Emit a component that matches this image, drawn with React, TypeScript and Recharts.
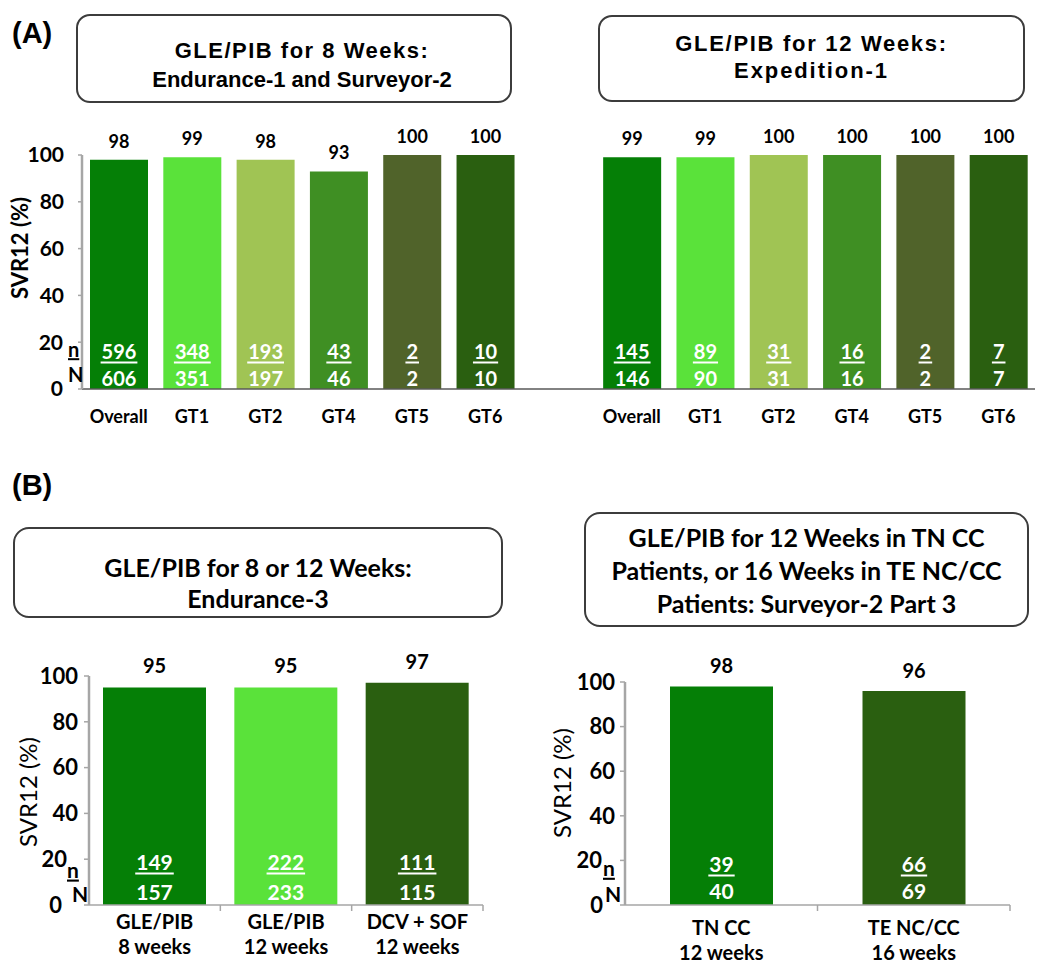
import React from 'react';
import { BarChart, Bar, XAxis, YAxis, Cell, LabelList } from 'recharts';

// panel A: genotype subgroups
const gtCategories = ['Overall', 'GT1', 'GT2', 'GT4', 'GT5', 'GT6'];
const gtColors = ['#057F06', '#5AE23A', '#A0C454', '#3F8F23', '#50632A', '#2A5F10'];
const weeks8Svr = [98, 99, 98, 93, 100, 100];
const weeks8N = [596, 348, 193, 43, 2, 10];
const weeks8Total = [606, 351, 197, 46, 2, 10];
const weeks12Svr = [99, 99, 100, 100, 100, 100];
const weeks12N = [145, 89, 31, 16, 2, 7];
const weeks12Total = [146, 90, 31, 16, 2, 7];

// panel B left: Endurance-3
const e3Categories = [['GLE/PIB', '8 weeks'], ['GLE/PIB', '12 weeks'], ['DCV + SOF', '12 weeks']];
const e3Colors = ['#057F06', '#5AE23A', '#2A5F10'];
const e3Svr = [95, 95, 97];
const e3N = [149, 222, 111];
const e3Total = [157, 233, 115];

// panel B right: Surveyor-2 part 3
const s2Categories = [['TN CC', '12 weeks'], ['TE NC/CC', '16 weeks']];
const s2Colors = ['#057F06', '#2A5F10'];
const s2Svr = [98, 96];
const s2N = [39, 66];
const s2Total = [40, 69];

const yTicks = [0, 20, 40, 60, 80, 100];

const LATO = "Lato, 'Open Sans', sans-serif";
const ARIAL = "'Liberation Sans', Arial, sans-serif";

type Row = { key: string; label: string[]; svr: number | null; counts?: string; color: string };

const buildRows = (prefix: string, cats: (string | string[])[], svr: number[], n: number[], total: number[], colors: string[]): Row[] =>
  cats.map((c, i) => ({
    key: `${prefix}${i}`,
    label: Array.isArray(c) ? c : [c],
    svr: svr[i],
    counts: `${n[i]}/${total[i]}`,
    color: colors[i],
  }));

const panelARows: Row[] = [
  ...buildRows('a', gtCategories, weeks8Svr, weeks8N, weeks8Total, gtColors),
  { key: 'gap', label: [''], svr: null, color: '#fff' },
  ...buildRows('b', gtCategories, weeks12Svr, weeks12N, weeks12Total, gtColors),
];
const e3Rows = buildRows('c', e3Categories, e3Svr, e3N, e3Total, e3Colors);
const s2Rows = buildRows('d', s2Categories, s2Svr, s2N, s2Total, s2Colors);

type Cfg = {
  left: number; top: number; width: number; height: number;
  margin: { top: number; right: number; left: number; bottom: number };
  yWidth: number; xHeight: number; barSize: number;
  tickSize: number; tickMargin: number; tickFont: number;
  twentyShift: number; nX: number; nDy: number; zeroShift: number; NX: number; NDy: number; sideFont: number;
  yLabelDx: number; yLabelDy: number; yLabelFont: number; yLabelWeight: number;
  valueFont: number; valueOffset: number;
  countFont: number; nUp: number; NUp: number;
  xFont: number; xFirst: number; xGap: number;
  xAxisColor: string; xAxisWidth: number; yAxisColor: string; yAxisWidth: number;
  boundaryTicks: boolean;
};

const SvrPanel = ({ rows, cfg }: { rows: Row[]; cfg: Cfg }) => {
  const bold = { fontFamily: LATO, fontWeight: 700 };

  const yTick = (props: any) => {
    const { x, y, payload } = props;
    const v = payload.value;
    if (v === 20) {
      return (
        <g>
          <text x={x + cfg.twentyShift} y={y} dy="0.35em" textAnchor="end" fontSize={cfg.tickFont} fill="#000" {...bold}>20</text>
          <text x={x + cfg.nX} y={y + cfg.nDy} dy="0.35em" textAnchor="start" fontSize={cfg.sideFont} fill="#000" style={{ textDecoration: 'underline' }} {...bold}>n</text>
        </g>
      );
    }
    if (v === 0) {
      return (
        <g>
          <text x={x + cfg.zeroShift} y={y} dy="0.35em" textAnchor="end" fontSize={cfg.tickFont} fill="#000" {...bold}>0</text>
          <text x={x + cfg.NX} y={y + cfg.NDy} dy="0.35em" textAnchor="start" fontSize={cfg.sideFont} fill="#000" {...bold}>N</text>
        </g>
      );
    }
    return (
      <text x={x} y={y} dy="0.35em" textAnchor="end" fontSize={cfg.tickFont} fill="#000" {...bold}>{v}</text>
    );
  };

  const xTick = (props: any) => {
    const { x, y, index, payload } = props;
    const row = rows[index];
    const half = payload && typeof payload.offset === 'number' ? payload.offset : 0;
    return (
      <g>
        {row.label.map((l, i) => (
          <text key={i} x={x} y={y + cfg.xFirst + i * cfg.xGap} textAnchor="middle" fontSize={cfg.xFont} fill="#000" {...bold}>{l}</text>
        ))}
        {cfg.boundaryTicks && half > 0 ? (
          <line x1={x + half} x2={x + half} y1={y} y2={y + 6} stroke={cfg.xAxisColor} strokeWidth={1.5} />
        ) : null}
      </g>
    );
  };

  const topLabel = (props: any) => {
    const vb = props.viewBox ?? props;
    if (props.value == null || !vb.width) return null;
    return (
      <text x={vb.x + vb.width / 2} y={vb.y - cfg.valueOffset} textAnchor="middle" fontSize={cfg.valueFont} fill="#000" {...bold}>{props.value}</text>
    );
  };

  const countLabel = (props: any) => {
    const vb = props.viewBox ?? props;
    if (props.value == null || !vb.width) return null;
    const [n, N] = String(props.value).split('/');
    const cx = vb.x + vb.width / 2;
    const bottom = vb.y + vb.height;
    const w = n.length * 0.58 * cfg.countFont;
    const nBase = bottom - cfg.nUp;
    return (
      <g>
        <text x={cx} y={nBase} textAnchor="middle" fontSize={cfg.countFont} fill="#fff" {...bold}>{n}</text>
        <line x1={cx - w / 2 - 1} x2={cx + w / 2 + 1} y1={nBase + 3.5} y2={nBase + 3.5} stroke="#fff" strokeWidth={2} />
        <text x={cx} y={bottom - cfg.NUp} textAnchor="middle" fontSize={cfg.countFont} fill="#fff" {...bold}>{N}</text>
      </g>
    );
  };

  const yLabel = (props: any) => {
    const vb = props.viewBox;
    const cx = vb.x + vb.width / 2 + cfg.yLabelDx;
    const cy = vb.y + vb.height / 2 + cfg.yLabelDy;
    return (
      <text x={cx} y={cy} dy="0.35em" textAnchor="middle" transform={`rotate(-90, ${cx}, ${cy})`} fontSize={cfg.yLabelFont} fontFamily={LATO} fontWeight={cfg.yLabelWeight} fill="#000">
        SVR12 (%)
      </text>
    );
  };

  return (
    <div style={{ position: 'absolute', left: cfg.left, top: cfg.top }}>
      <BarChart width={cfg.width} height={cfg.height} data={rows} margin={cfg.margin}>
        <XAxis
          dataKey="key"
          type="category"
          height={cfg.xHeight}
          interval={0}
          tickSize={0}
          tickMargin={0}
          tickLine={false}
          axisLine={{ stroke: cfg.xAxisColor, strokeWidth: cfg.xAxisWidth }}
          tick={xTick}
        />
        <YAxis
          width={cfg.yWidth}
          domain={[0, 100]}
          ticks={yTicks}
          interval={0}
          tickSize={cfg.tickSize}
          tickMargin={cfg.tickMargin}
          tickLine={{ stroke: cfg.yAxisColor, strokeWidth: 1.5 }}
          axisLine={{ stroke: cfg.yAxisColor, strokeWidth: cfg.yAxisWidth }}
          tick={yTick}
          label={yLabel}
        />
        <Bar dataKey="svr" barSize={cfg.barSize} isAnimationActive={false}>
          {rows.map((r) => (
            <Cell key={r.key} fill={r.color} />
          ))}
          <LabelList dataKey="svr" content={topLabel} />
          <LabelList dataKey="counts" content={countLabel} />
        </Bar>
      </BarChart>
    </div>
  );
};

const TitleBox = ({ left, top, width, height, lines, centers, font, size, radius, shift = 0, spacing = [] }: {
  left: number; top: number; width: number; height: number; lines: string[]; centers: number[];
  font: string; size: number; radius: number; shift?: number; spacing?: number[];
}) => (
  <div
    style={{
      position: 'absolute', left, top, width, height, boxSizing: 'border-box',
      border: '2px solid #3c3c3c', borderRadius: radius, background: '#fff',
    }}
  >
    {lines.map((l, i) => (
      <div
        key={i}
        style={{
          position: 'absolute', left: shift, width: width - 4, top: centers[i] - top - 2 - 15, height: 30,
          lineHeight: '30px', textAlign: 'center', fontFamily: font, fontWeight: 700, fontSize: size,
          color: '#000', whiteSpace: 'nowrap', letterSpacing: spacing[i] ?? 0,
        }}
      >
        {l}
      </div>
    ))}
  </div>
);

const cfgA: Cfg = {
  left: 0, top: 110, width: 1050, height: 335,
  margin: { top: 45, right: 15, left: 0, bottom: 6 },
  yWidth: 82, xHeight: 50, barSize: 58,
  tickSize: 4, tickMargin: 14, tickFont: 21,
  twentyShift: -1, nX: 4, nDy: 8, zeroShift: -1, NX: 4, NDy: -14, sideFont: 20,
  yLabelDx: -21, yLabelDy: -24, yLabelFont: 22, yLabelWeight: 700,
  valueFont: 18, valueOffset: 12,
  countFont: 20, nUp: 30, NUp: 3,
  xFont: 18, xFirst: 34, xGap: 24,
  xAxisColor: '#595959', xAxisWidth: 1.5, yAxisColor: '#a6a6a6', yAxisWidth: 2.5,
  boundaryTicks: false,
};

const cfgB1: Cfg = {
  left: 0, top: 630, width: 500, height: 343,
  margin: { top: 46, right: 17, left: 0, bottom: 8 },
  yWidth: 89, xHeight: 60, barSize: 103,
  tickSize: 5, tickMargin: 6, tickFont: 22,
  twentyShift: -11, nX: -11, nDy: 11, zeroShift: -16, NX: -6, NDy: -10, sideFont: 21,
  yLabelDx: -15.5, yLabelDy: 1.5, yLabelFont: 24, yLabelWeight: 400,
  valueFont: 20, valueOffset: 14,
  countFont: 21, nUp: 35, NUp: 5,
  xFont: 20, xFirst: 24, xGap: 25,
  xAxisColor: '#a6a6a6', xAxisWidth: 1.5, yAxisColor: '#a6a6a6', yAxisWidth: 2.5,
  boundaryTicks: true,
};

const cfgB2: Cfg = {
  left: 530, top: 630, width: 520, height: 343,
  margin: { top: 52, right: 40, left: 0, bottom: 8 },
  yWidth: 95, xHeight: 60, barSize: 103,
  tickSize: 5, tickMargin: 5, tickFont: 22,
  twentyShift: -13, nX: -12, nDy: 8, zeroShift: -12, NX: -10, NDy: -10, sideFont: 21,
  yLabelDx: -14.5, yLabelDy: -10.5, yLabelFont: 24, yLabelWeight: 400,
  valueFont: 20, valueOffset: 13,
  countFont: 21, nUp: 33, NUp: 6,
  xFont: 20, xFirst: 30, xGap: 25,
  xAxisColor: '#a6a6a6', xAxisWidth: 1.5, yAxisColor: '#a6a6a6', yAxisWidth: 2.5,
  boundaryTicks: true,
};

export default function App() {
  return (
    <div style={{ position: 'absolute', left: 0, top: 0, width: 1050, height: 973, background: '#fff', overflow: 'hidden' }}>
      <div style={{ position: 'absolute', left: 12, top: 14, height: 38, lineHeight: '38px', fontFamily: ARIAL, fontWeight: 700, fontSize: 29 }}>(A)</div>
      <div style={{ position: 'absolute', left: 12, top: 466, height: 38, lineHeight: '38px', fontFamily: ARIAL, fontWeight: 700, fontSize: 29 }}>(B)</div>

      <TitleBox left={76} top={14} width={436} height={89} lines={['GLE/PIB for 8 Weeks:', 'Endurance-1 and Surveyor-2']} centers={[51, 80]} font={ARIAL} size={22} radius={14} shift={8} spacing={[1.5, 0]} />
      <TitleBox left={598} top={15} width={427} height={87} lines={['GLE/PIB for 12 Weeks:', 'Expedition-1']} centers={[44, 71]} font={ARIAL} size={22} radius={14} spacing={[1.7, 1.9]} />
      <TitleBox left={13} top={527} width={490} height={91} lines={['GLE/PIB for 8 or 12 Weeks:', 'Endurance-3']} centers={[567, 598]} font={LATO} size={25} radius={16} />
      <TitleBox left={584} top={512} width={445} height={115} lines={['GLE/PIB for 12 Weeks in TN CC', 'Patients, or 16 Weeks in TE NC/CC', 'Patients: Surveyor-2 Part 3']} centers={[537, 570, 603]} font={LATO} size={25} radius={16} />

      <SvrPanel rows={panelARows} cfg={cfgA} />
      <SvrPanel rows={e3Rows} cfg={cfgB1} />
      <SvrPanel rows={s2Rows} cfg={cfgB2} />
    </div>
  );
}
